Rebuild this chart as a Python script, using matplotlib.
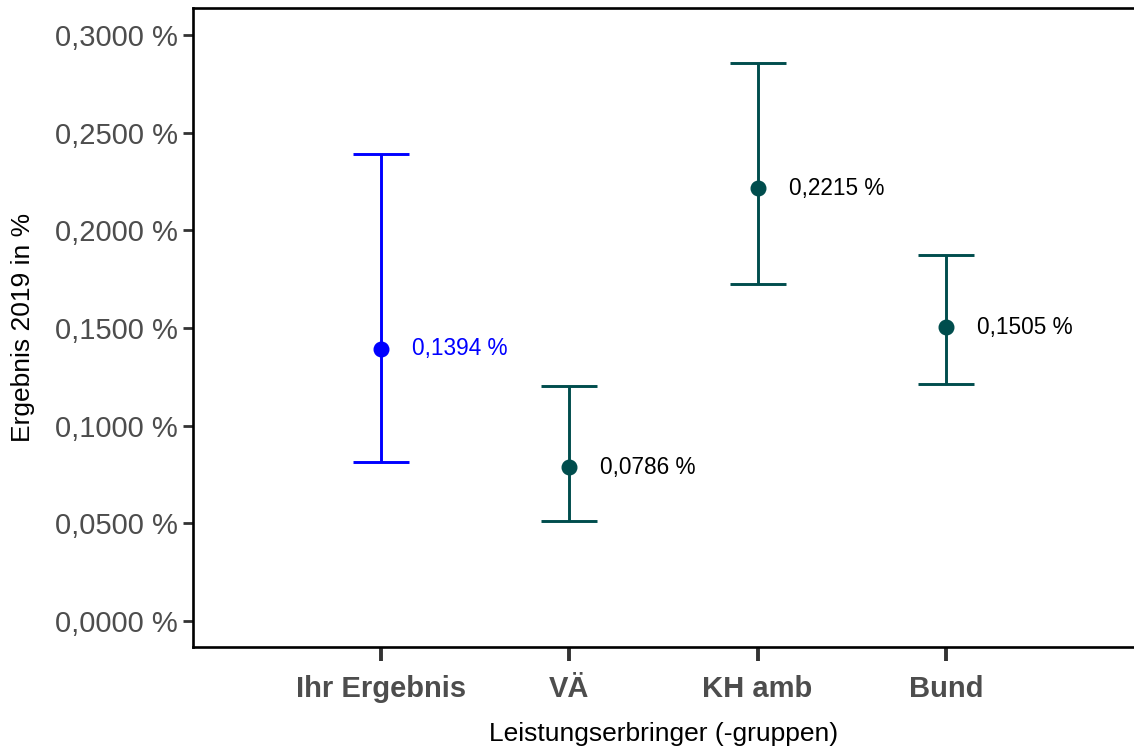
import matplotlib
matplotlib.use("Agg")
import matplotlib.pyplot as plt

plt.rcParams['font.family'] = ['Liberation Sans', 'DejaVu Sans']

categories = ["Ihr Ergebnis", "VÄ", "KH amb", "Bund"]
values = [0.1394, 0.0786, 0.2215, 0.1505]
lower = [0.0814, 0.0512, 0.1725, 0.1213]
upper = [0.2391, 0.1203, 0.2857, 0.1874]
colors = ["#0000FF", "#004D4D", "#004D4D", "#004D4D"]
label_colors = ["#0000FF", "#000000", "#000000", "#000000"]
yticks = [0.0, 0.05, 0.10, 0.15, 0.20, 0.25, 0.30]

fig = plt.figure(figsize=(11.34, 7.49), dpi=100)
ax = fig.add_axes([0.1702, 0.1362, 0.8298, 0.8531])

xs = list(range(1, len(categories) + 1))
for x, v, lo, hi, c, lc in zip(xs, values, lower, upper, colors, label_colors):
    ax.errorbar([x], [v], yerr=[[v - lo], [hi - v]], fmt='o', color=c,
                ecolor=c, elinewidth=2.1, capsize=20, capthick=2.1,
                markersize=10.5, zorder=3)
    ax.text(x + 0.165, v, f"{v:.4f} %".replace('.', ','), color=lc,
            fontsize=16.3, va='center', ha='left')

ax.set_xlim(0, 5)
ax.set_ylim(-0.0133, 0.3138)
ax.set_xticks(xs)
ax.set_xticklabels(categories, fontsize=21, fontweight='bold', color='#4D4D4D')
ax.set_yticks(yticks)
ax.set_yticklabels([f"{t:.4f} %".replace('.', ',') for t in yticks],
                   fontsize=21, color='#4D4D4D')
ax.tick_params(axis='x', length=10, width=2.8, color='#333333', pad=10)
ax.tick_params(axis='y', length=7, width=2.0, color='#333333', pad=4)

for s in ['left', 'bottom', 'top']:
    ax.spines[s].set_linewidth(1.9)
    ax.spines[s].set_color('black')
ax.spines['right'].set_visible(False)

ax.set_xlabel("Leistungserbringer (-gruppen)", fontsize=19, labelpad=14)
ax.set_ylabel("Ergebnis 2019 in %", fontsize=19, labelpad=14)

fig.savefig("out.png", dpi=100, facecolor='white')
